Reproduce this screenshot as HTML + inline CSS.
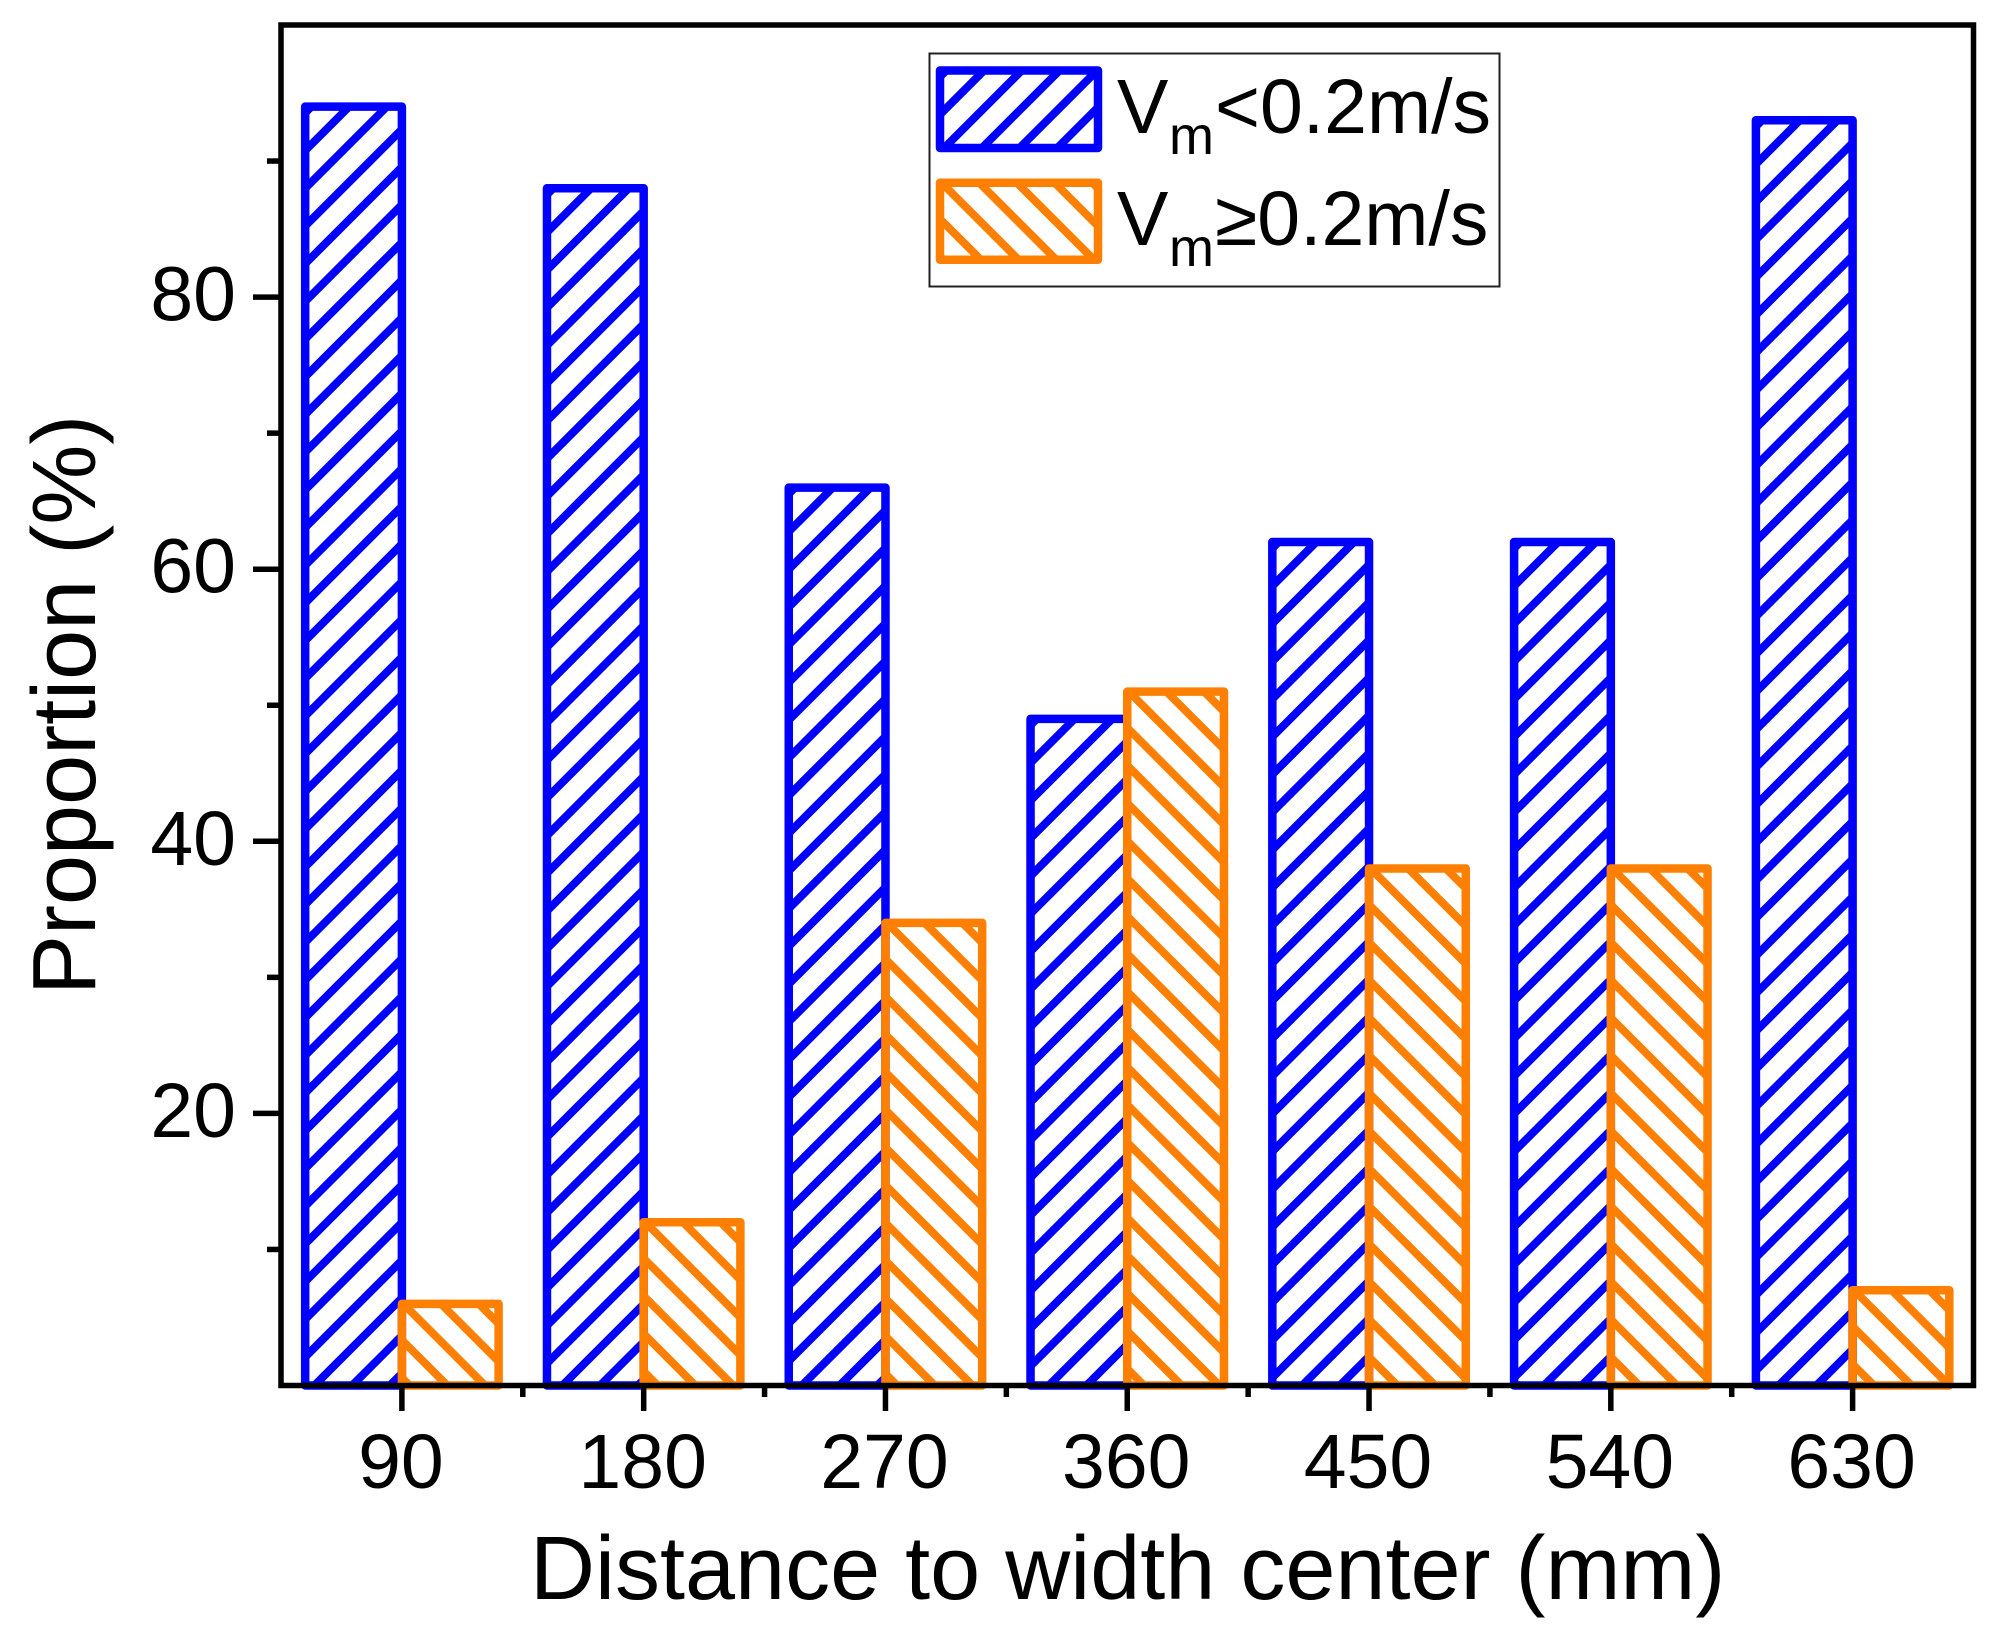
<!DOCTYPE html>
<html lang="en">
<head>
<meta charset="utf-8">
<title>Proportion by distance to width center</title>
<style>
  html, body { margin: 0; padding: 0; background: #ffffff; }
  svg { display: block; }
  text { font-family: "Liberation Sans", Arial, sans-serif; fill: #000000; }
</style>
</head>
<body>
<svg id="chart" xmlns="http://www.w3.org/2000/svg" width="1995" height="1641" viewBox="0 0 1995 1641">
  <rect x="0" y="0" width="1995" height="1641" fill="#ffffff"/>
  <g id="bars"></g>
  <g id="axes"></g>
  <text x="530" y="1599" font-size="90">Distance to width center (mm)</text>
  <text x="95" y="995" font-size="90" transform="rotate(-90 95 995)">Proportion (%)</text>
  <g id="legend">
    <rect x="929.5" y="53.5" width="570" height="233" fill="#ffffff" stroke="#222222" stroke-width="2"/>
    <g id="legend-swatches"></g>
    <text font-size="77" x="1117" y="133">V<tspan x="1169" y="154" font-size="54">m</tspan><tspan x="1215" y="133">&lt;0.2m/s</tspan></text>
    <text font-size="77" x="1117" y="245">V<tspan x="1169" y="266" font-size="54">m</tspan><tspan x="1215" y="245">≥0.2m/s</tspan></text>
  </g>
</svg>
<script>
const categories = [90, 180, 270, 360, 450, 540, 630];
const lowSpeedValues = [94, 88, 66, 49, 62, 62, 93];
const highSpeedValues = [6, 12, 34, 51, 38, 38, 7];
const xMinorTicks = [135, 225, 315, 405, 495, 585];
const yMajorTicks = [20, 40, 60, 80];
const yMinorTicks = [10, 30, 50, 70, 90];

const NS = 'http://www.w3.org/2000/svg';
const plot = { left: 281, right: 1973.5, top: 25, bottom: 1385.5 };
const xDomain = [45, 675];
const yDomain = [0, 100];
const BLUE = '#0000ff';
const ORANGE = '#ff8000';
const HATCH_GAP = 37.7;
const HATCH_WIDTH = 8;
const EDGE_WIDTH = 8.5;
const AXIS_WIDTH = 5.5;

function xScale(v) {
  return plot.left + (v - xDomain[0]) / (xDomain[1] - xDomain[0]) * (plot.right - plot.left);
}
function yScale(v) {
  return plot.bottom - (v - yDomain[0]) / (yDomain[1] - yDomain[0]) * (plot.bottom - plot.top);
}
function make(tag, parent, props) {
  const node = document.createElementNS(NS, tag);
  for (const key in props) node.setAttribute(key, props[key]);
  parent.appendChild(node);
  return node;
}
function hatchPath(x0, y0, x1, y1, rising) {
  let d = '';
  if (rising) {
    for (let c = x0 + y0 + 6.3; c < x1 + y1; c += HATCH_GAP) {
      const ax = Math.max(x0, c - y1), bx = Math.min(x1, c - y0);
      if (bx > ax) d += 'M' + ax.toFixed(1) + ' ' + (c - ax).toFixed(1) + 'L' + bx.toFixed(1) + ' ' + (c - bx).toFixed(1);
    }
  } else {
    const first = x0 - y0 + 1.5 - Math.ceil((y1 - y0) / HATCH_GAP + 1) * HATCH_GAP;
    for (let c = first; c < x1 - y0; c += HATCH_GAP) {
      const ax = Math.max(x0, c + y0), bx = Math.min(x1, c + y1);
      if (bx > ax) d += 'M' + ax.toFixed(1) + ' ' + (ax - c).toFixed(1) + 'L' + bx.toFixed(1) + ' ' + (bx - c).toFixed(1);
    }
  }
  return d;
}
function hatchedBox(parent, x0, y0, x1, y1, color, rising) {
  const hatch = make('path', parent, { d: hatchPath(x0, y0, x1, y1, rising), fill: 'none', stroke: color, 'stroke-width': HATCH_WIDTH });
  
  
  const edge = make('rect', parent, { x: x0, y: y0, width: x1 - x0, height: y1 - y0, fill: 'none', stroke: color, 'stroke-width': EDGE_WIDTH, 'stroke-linejoin': 'round' });
  
  
}

const barsLayer = document.getElementById('bars');
const barWidth = (xScale(categories[1]) - xScale(categories[0])) * 0.4;
categories.forEach(function (cat, i) {
  const cx = xScale(cat);
  const group = make('g', barsLayer, {});
  
  
  hatchedBox(group, cx - barWidth, yScale(lowSpeedValues[i]), cx, yScale(0), BLUE, true);
});
categories.forEach(function (cat, i) {
  const cx = xScale(cat);
  const group = make('g', barsLayer, {});
  
  
  hatchedBox(group, cx, yScale(highSpeedValues[i]), cx + barWidth, yScale(0), ORANGE, false);
});

const swatches = document.getElementById('legend-swatches');
const swatchLow = make('g', swatches, {});


hatchedBox(swatchLow, 940, 70.5, 1098, 148, BLUE, true);
const swatchHigh = make('g', swatches, {});


hatchedBox(swatchHigh, 940, 182.7, 1098, 259.7, ORANGE, false);

const axesLayer = document.getElementById('axes');
const frame = make('rect', axesLayer, { x: plot.left, y: plot.top, width: plot.right - plot.left, height: plot.bottom - plot.top, fill: 'none', stroke: '#000000', 'stroke-width': AXIS_WIDTH });



categories.forEach(function (cat) {
  const x = xScale(cat);
  const tick = make('line', axesLayer, { x1: x, x2: x, y1: plot.bottom, y2: 1411, stroke: '#000000', 'stroke-width': AXIS_WIDTH });
  
  
  const label = make('text', axesLayer, { x: x - 1, y: 1488, 'font-size': 77, 'text-anchor': 'middle' });
  label.textContent = String(cat);
  
  
});
xMinorTicks.forEach(function (v) {
  const x = xScale(v);
  const tick = make('line', axesLayer, { x1: x, x2: x, y1: plot.bottom, y2: 1397, stroke: '#000000', 'stroke-width': AXIS_WIDTH });
  
  
});
yMajorTicks.forEach(function (v) {
  const y = yScale(v);
  const tick = make('line', axesLayer, { x1: 253, x2: plot.left, y1: y, y2: y, stroke: '#000000', 'stroke-width': AXIS_WIDTH });
  
  
  const label = make('text', axesLayer, { x: 236, y: y + 23.5, 'font-size': 77, 'text-anchor': 'end' });
  label.textContent = String(v);
  
  
});
yMinorTicks.forEach(function (v) {
  const y = yScale(v);
  const tick = make('line', axesLayer, { x1: 267, x2: plot.left, y1: y, y2: y, stroke: '#000000', 'stroke-width': AXIS_WIDTH });
  
  
});
</script>
</body>
</html>
